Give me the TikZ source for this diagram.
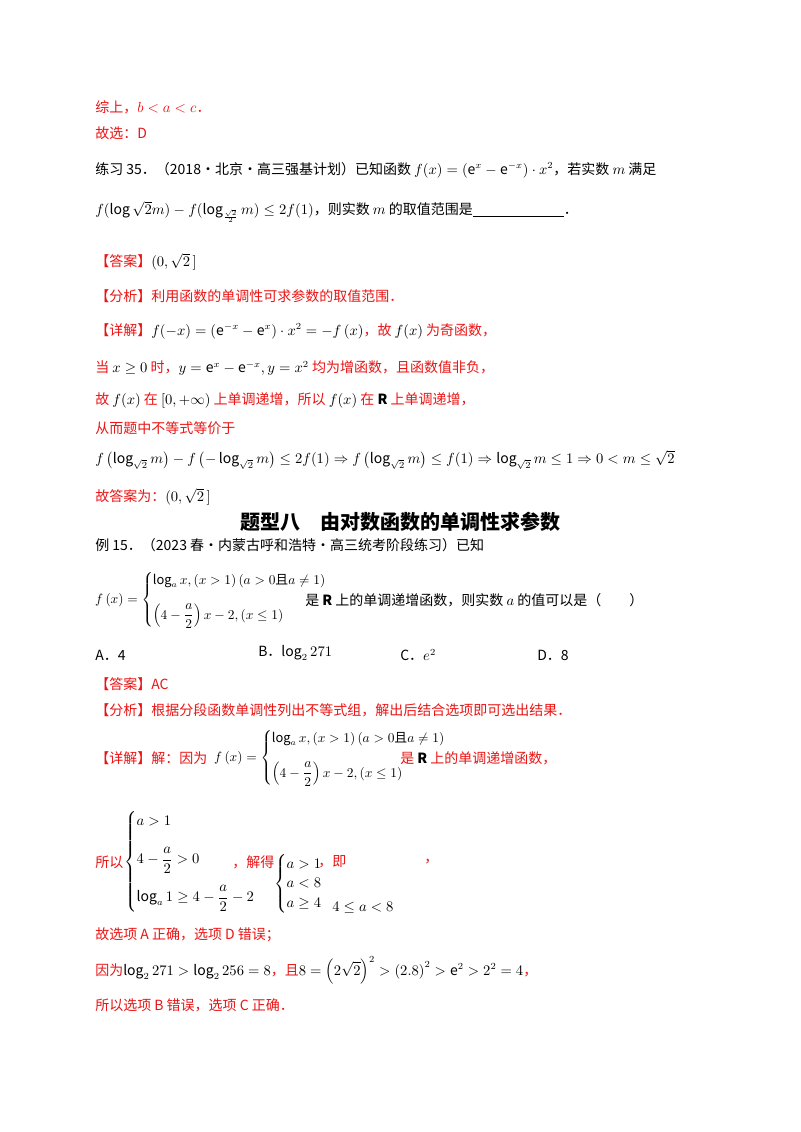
\documentclass[tikz,border=0pt]{standalone}
\usepackage{amsmath,amssymb}
\usepackage{fontspec}
\setmainfont{Noto Sans CJK SC}
\definecolor{rd}{RGB}{235,20,20}
\begin{document}
\begin{tikzpicture}[x=0.75pt,y=-0.75pt,
 t/.style={anchor=west,inner sep=0pt,font=\fontsize{10.5pt}{12pt}\selectfont},
 r/.style={t,text=rd}]
\useasboundingbox[fill=white] (0,0) rectangle (800,1132);
\node[r] (l1) at (95,107) {综上，$b<a<c$．};
\node[r] (l2) at (95,133) {故选：D};
\node[t] (l3) at (95,170) {练习 35．（2018·北京·高三强基计划）已知函数 $f(x)=\left(\mathrm{e}^{x}-\mathrm{e}^{-x}\right)\cdot x^{2}$，若实数 $m$ 满足};
\node[t] (l4) at (95,212) {$f(\log\sqrt{2}m)-f(\log_{\frac{\sqrt2}{2}}m)\le 2f(1)$，则实数 $m$ 的取值范围是\underline{\hspace{6.5em}}．};
\node[r] (l5) at (95,262) {【答案】\textcolor{black}{$(0,\sqrt2\,]$}};
\node[r] (l6) at (95,296) {【分析】利用函数的单调性可求参数的取值范围．};
\node[r] (l7) at (95,331) {【详解】\textcolor{black}{$f(-x)=\left(\mathrm{e}^{-x}-\mathrm{e}^{x}\right)\cdot x^{2}=-f\left(x\right)$}，故 \textcolor{black}{$f(x)$} 为奇函数，};
\node[r] (l8) at (95,368) {当 \textcolor{black}{$x\ge0$} 时，\textcolor{black}{$y=\mathrm{e}^{x}-\mathrm{e}^{-x},y=x^{2}$} 均为增函数，且函数值非负，};
\node[r] (l9) at (95,400) {故 \textcolor{black}{$f(x)$} 在 \textcolor{black}{$[0,+\infty)$} 上单调递增，所以 \textcolor{black}{$f(x)$} 在 \textcolor{black}{$\mathbf{R}$} 上单调递增，};
\node[r] (l10) at (95,428) {从而题中不等式等价于};
\node[t] (l11) at (95,460) {$f\left(\log_{\sqrt2}m\right)-f\left(-\log_{\sqrt2}m\right)\le 2f(1)\Rightarrow f\left(\log_{\sqrt2}m\right)\le f(1)\Rightarrow \log_{\sqrt2}m\le1\Rightarrow 0<m\le\sqrt2$};
\node[r] (l12) at (95,497) {故答案为：\textcolor{black}{$(0,\sqrt2\,]$}};
\node[inner sep=0pt,font=\fontsize{15pt}{17pt}\selectfont\bfseries] (title) at (400,522) {题型八\quad 由对数函数的单调性求参数};
\node[t] (e1) at (95,545) {例 15．（2023 春·内蒙古呼和浩特·高三统考阶段练习）已知};
\node[t,scale=0.92] (e2) at (95,600) {$f\left(x\right)=\begin{cases}\log_a x,\left(x>1\right)\left(a>0\text{且}a\ne1\right)\\[12pt] \left(4-\dfrac{a}{2}\right)x-2,\left(x\le1\right)\end{cases}$};
\node[t] (e3) at (305,600) {是 $\mathbf{R}$ 上的单调递增函数，则实数 $a$ 的值可以是（\qquad）};
\node[t] (oa) at (95,655) {A．4};
\node[t] (ob) at (258,653) {B．$\log_2 271$};
\node[t] (oc) at (400,655) {C．$e^2$};
\node[t] (od) at (537,655) {D．8};
\node[r] (a1) at (95,684) {【答案】AC};
\node[r] (a2) at (95,710) {【分析】根据分段函数单调性列出不等式组，解出后结合选项即可选出结果．};
\node[r] (a3) at (95,758) {【详解】解：因为};
\node[t,scale=0.92] (a3m) at (214,758) {$f\left(x\right)=\begin{cases}\log_a x,\left(x>1\right)\left(a>0\text{且}a\ne1\right)\\[12pt] \left(4-\dfrac{a}{2}\right)x-2,\left(x\le1\right)\end{cases}$};
\node[r] (a3b) at (400,758) {是 \textcolor{black}{$\mathbf{R}$} 上的单调递增函数，};
\node[r] (s1) at (95,862) {所以};
\node[t] (s1m) at (124,862) {$\begin{cases}a>1\\[12pt] 4-\dfrac{a}{2}>0\\[12pt] \log_a1\ge4-\dfrac{a}{2}-2\end{cases}$};
\node[r] (s2) at (232,862) {，解得};
\node[t] (s2m) at (274,884) {$\begin{cases}a>1\\ a<8\\ a\ge4\end{cases}$};
\node[r] (s3) at (318,862) {，即};
\node[r] (s4) at (424,862) {，};
\node[t] (s5) at (332,908) {$4\le a<8$};
\node[r] (b1) at (95,935) {故选项 A 正确，选项 D 错误；};
\node[r] (b2) at (95,970) {因为\textcolor{black}{$\log_2271>\log_2256=8$}，且\textcolor{black}{$8=\left(2\sqrt2\right)^2>\left(2.8\right)^2>\mathrm{e}^2>2^2=4$}，};
\node[r] (b3) at (95,1005) {所以选项 B 错误，选项 C 正确．};
\end{tikzpicture}
\end{document}
